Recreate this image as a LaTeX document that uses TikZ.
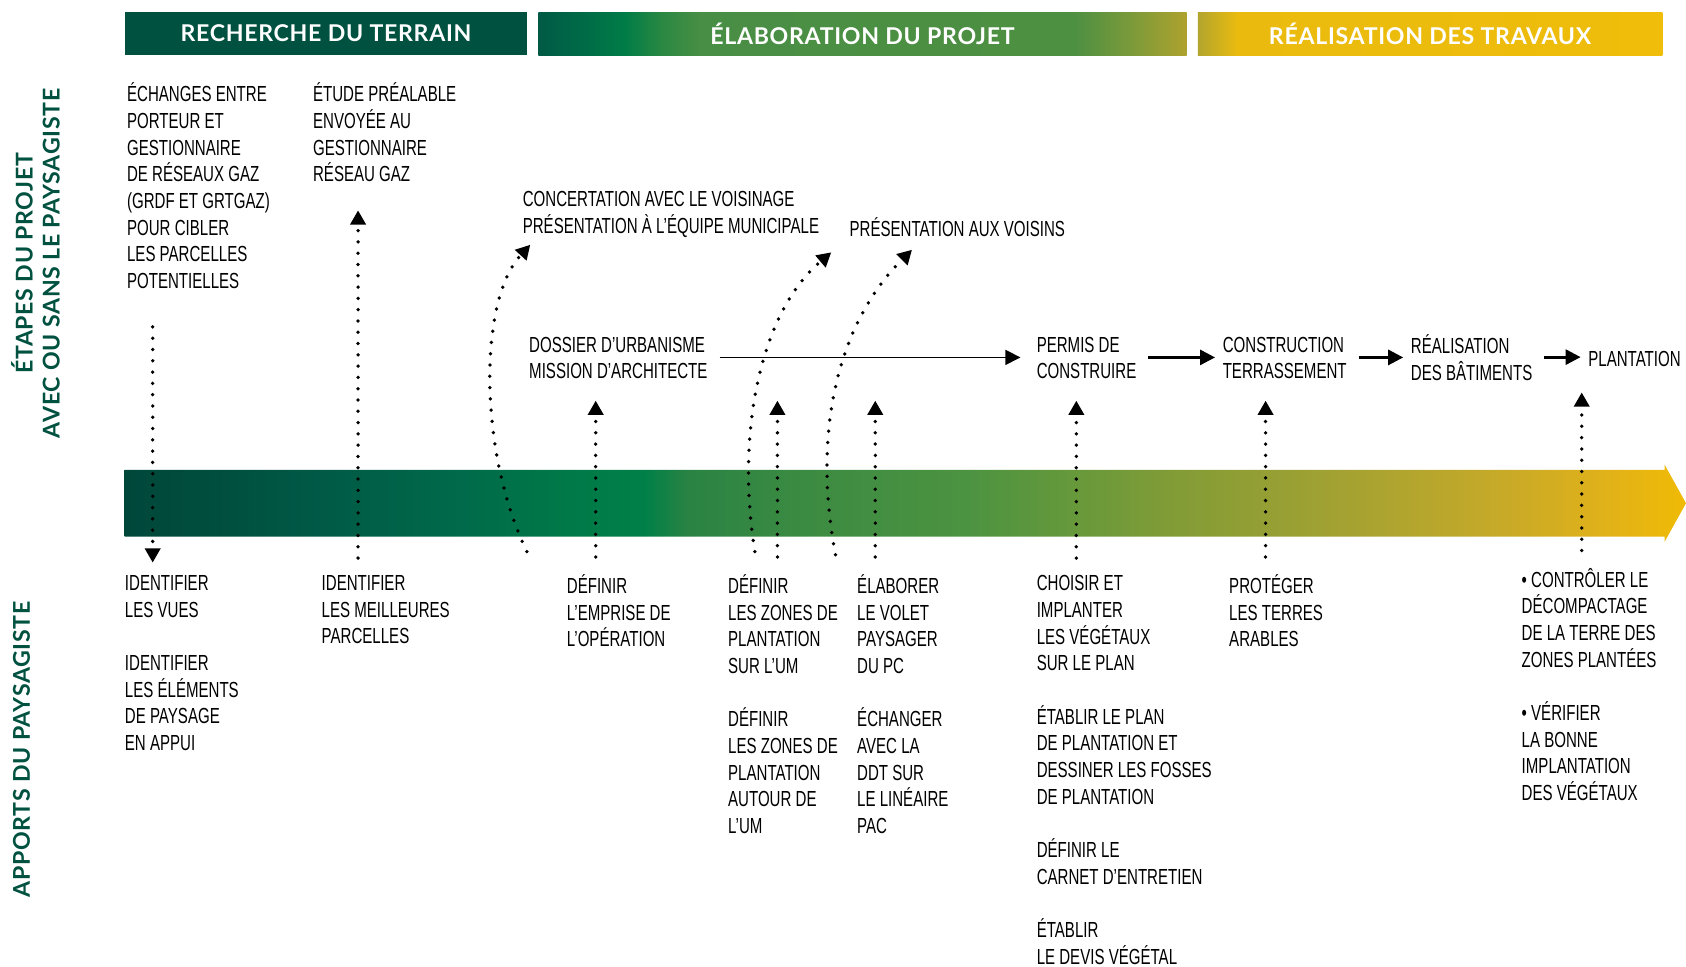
\documentclass[tikz,border=0pt]{standalone}
\usepackage{fontspec}
\setmainfont{Liberation Sans}[FakeStretch=0.69]
\newfontfamily\headfont{Lato}[LetterSpace=3]
\usetikzlibrary{positioning,arrows.meta}

\definecolor{darkgreen}{HTML}{00513F}
\definecolor{bandA}{HTML}{00473A}
\definecolor{bandB}{HTML}{004E3E}
\definecolor{bandC}{HTML}{005A46}
\definecolor{bandD}{HTML}{00694A}
\definecolor{bandE}{HTML}{007848}
\definecolor{bandF}{HTML}{008048}
\definecolor{bandG}{HTML}{2A8343}
\definecolor{bandH}{HTML}{3C8B42}
\definecolor{bandI}{HTML}{4C9341}
\definecolor{bandJ}{HTML}{67993B}
\definecolor{bandK}{HTML}{849C36}
\definecolor{bandL}{HTML}{A4A232}
\definecolor{bandM}{HTML}{C8AA28}
\definecolor{bandN}{HTML}{E2B218}
\definecolor{bandO}{HTML}{F0BB05}
\definecolor{elabA}{HTML}{005A45}
\definecolor{elabB}{HTML}{006A47}
\definecolor{elabC}{HTML}{007C47}
\definecolor{elabD}{HTML}{2A8842}
\definecolor{elabE}{HTML}{488E44}
\definecolor{elabF}{HTML}{4E9042}
\definecolor{elabG}{HTML}{7A9A3A}
\definecolor{elabH}{HTML}{AEA22E}
\definecolor{travA}{HTML}{B2A52E}
\definecolor{travB}{HTML}{EABB0E}
\definecolor{travC}{HTML}{EFBD0A}

% colour runs, 25bp = left edge, 75bp = right edge
\pgfdeclarehorizontalshading{bandshade}{100bp}{color(0bp)=(bandA); color(25bp)=(bandA);
  color(27.89bp)=(bandB); color(31.34bp)=(bandC); color(35.47bp)=(bandD);
  color(38.91bp)=(bandE); color(41.67bp)=(bandF); color(43.04bp)=(bandG);
  color(46.83bp)=(bandH); color(51.99bp)=(bandI); color(55.44bp)=(bandJ);
  color(58.88bp)=(bandK); color(64.05bp)=(bandL); color(69.21bp)=(bandM);
  color(72.66bp)=(bandN); color(75bp)=(bandO); color(100bp)=(bandO)}
\pgfdeclarehorizontalshading{elabshade}{100bp}{color(0bp)=(elabA); color(25bp)=(elabA);
  color(28.32bp)=(elabB); color(31.63bp)=(elabC); color(34.54bp)=(elabD);
  color(37.44bp)=(elabE); color(66.46bp)=(elabF); color(70.6bp)=(elabG);
  color(75bp)=(elabH); color(100bp)=(elabH)}
\pgfdeclarehorizontalshading{travshade}{100bp}{color(0bp)=(travA); color(25bp)=(travA);
  color(29.28bp)=(travB); color(75bp)=(travC); color(100bp)=(travC)}

\begin{document}
\begin{tikzpicture}[x=1pt, y=-1pt,
    txt/.style={align=left, anchor=north west, inner sep=0pt,
      font=\fontsize{20.3}{24.8}\selectfont, execute at begin node=\strut},
    bar/.style={anchor=north west, minimum height=40pt, inner sep=0pt, text=white,
      font=\headfont\bfseries\fontsize{21.5}{24}\selectfont},
    side/.style={rotate=90, align=center, inner sep=0pt, text=darkgreen,
      font=\headfont\bfseries\fontsize{21.5}{25}\selectfont},
    flow/.style={line width=2.6pt, -{Triangle[length=14pt,width=14pt]},
      shorten <=11pt, shorten >=7pt, transform canvas={yshift=4pt}},
    dotarrow/.style={line width=3.5pt, line cap=round, dash pattern=on 0pt off 10.5pt,
      -{Triangle[length=13pt,width=15pt,line width=0pt]}}]
    \useasboundingbox (0,0) rectangle (1568,898.4);

    % phases
    \node[bar, fill=darkgreen, minimum width=374pt] (recherche) at (116,11) {RECHERCHE DU TERRAIN};
    \node[bar, shade, shading=elabshade, minimum width=603pt, right=10pt of recherche] (elaboration) {ÉLABORATION DU PROJET};
    \node[bar, shade, shading=travshade, minimum width=432pt, right=10pt of elaboration] (travaux) {RÉALISATION DES TRAVAUX};

    \node[side] (etapes) at (33,245) {ÉTAPES DU PROJET\\AVEC OU SANS LE PAYSAGISTE};
    \node[side] (apports) at (20,697) {APPORTS DU PAYSAGISTE};

    % timeline
    \shade[shading=bandshade] (116,437) -- (1548,437) -- (1548,432) -- (1568,468)
      -- (1548,504) -- (1548,499) -- (116,499) -- cycle;

    % project steps
    \node[txt] (echanges) at (118,77) {ÉCHANGES ENTRE\\PORTEUR ET\\GESTIONNAIRE\\DE RÉSEAUX GAZ\\(GRDF ET GRTGAZ)\\POUR CIBLER\\LES PARCELLES\\POTENTIELLES};
    \node[txt] (etude) at (291,77) {ÉTUDE PRÉALABLE\\ENVOYÉE AU\\GESTIONNAIRE\\RÉSEAU GAZ};
    \node[txt] (concert) at (486,178) {CONCERTATION AVEC LE VOISINAGE\\PRÉSENTATION À L’ÉQUIPE MUNICIPALE};
    \node[txt] (voisins) at (790,202) {PRÉSENTATION AUX VOISINS};
    \node[txt] (dossier) at (492,313) {DOSSIER D’URBANISME\\MISSION D’ARCHITECTE};
    \node[txt] (permis) at (964,313) {PERMIS DE\\CONSTRUIRE};
    \node[txt] (constr) at (1137,313) {CONSTRUCTION\\TERRASSEMENT};
    \node[txt] (batim) at (1312,311) {RÉALISATION\\DES BÂTIMENTS};
    \node[txt] (plant) at (1477,323) {PLANTATION};

    \draw[flow, line width=1.4pt, shorten >=15pt] (dossier.east) -- (dossier.east -| permis.west);
    \draw[flow] (permis.east) -- (permis.east -| constr.west);
    \draw[flow] (constr.east) -- (constr.east -| batim.west);
    \draw[flow] (batim.east) -- (batim.east -| plant.west);

    % landscape architect input
    \node[txt] (vues) at (116,535) {IDENTIFIER\\LES VUES\\[24.8pt]IDENTIFIER\\LES ÉLÉMENTS\\DE PAYSAGE\\EN APPUI};
    \node[txt] (meilleures) at (299,535) {IDENTIFIER\\LES MEILLEURES\\PARCELLES};
    \node[txt] (emprise) at (527,534) {DÉFINIR\\L’EMPRISE DE\\L’OPÉRATION};
    \node[txt] (zones) at (677,534) {DÉFINIR\\LES ZONES DE\\PLANTATION\\SUR L’UM\\[24.8pt]DÉFINIR\\LES ZONES DE\\PLANTATION\\AUTOUR DE\\L’UM};
    \node[txt] (volet) at (797,534) {ÉLABORER\\LE VOLET\\PAYSAGER\\DU PC\\[24.8pt]ÉCHANGER\\AVEC LA\\DDT SUR\\LE LINÉAIRE\\PAC};
    \node[txt] (choisir) at (964,535) {CHOISIR ET\\IMPLANTER\\LES VÉGÉTAUX\\SUR LE PLAN\\[24.8pt]ÉTABLIR LE PLAN\\DE PLANTATION ET\\DESSINER LES FOSSES\\DE PLANTATION\\[24.8pt]DÉFINIR LE\\CARNET D’ENTRETIEN\\[24.8pt]ÉTABLIR\\LE DEVIS VÉGÉTAL};
    \node[txt] (terres) at (1143,534) {PROTÉGER\\LES TERRES\\ARABLES};
    \node[txt] (controle) at (1415,528) {• CONTRÔLER LE\\DÉCOMPACTAGE\\DE LA TERRE DES\\ZONES PLANTÉES\\[24.8pt]• VÉRIFIER\\LA BONNE\\IMPLANTATION\\DES VÉGÉTAUX};

    % dotted links
    \draw[dotarrow, shorten <=28pt, shorten >=12pt] (142,0 |- echanges.south) -- (142,0 |- vues.north);
    \foreach \x/\src/\dst/\gap in {333/meilleures/etude/19pt, 554/emprise/dossier/13pt,
        723/zones/dossier/13pt, 814/volet/dossier/13pt, 1001/choisir/permis/13pt,
        1177/terres/constr/13pt, 1471/controle/plant/17pt}
      \draw[dotarrow, shorten <=16pt, shorten >=\gap] (\x,0 |- \src.north) -- (\x,0 |- \dst.south);

    \coordinate (c1) at (490,513);
    \coordinate (c2) at (702,513);
    \coordinate (c3) at (777,516);
    \draw[dotarrow] (c1) .. controls (445,420) and (445,280) .. ([shift={(7,3)}]concert.south west);
    \draw[dotarrow] (c2) .. controls (684,400) and (708,290) .. ([shift={(11,10)}]concert.south east);
    \draw[dotarrow] (c3) .. controls (755,400) and (780,300) .. ([shift={(58,5)}]voisins.south west);
\end{tikzpicture}
\end{document}
